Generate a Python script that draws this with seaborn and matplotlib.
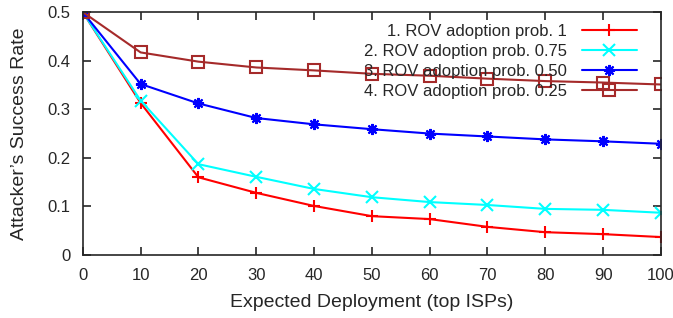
import seaborn as sns
import matplotlib.pyplot as plt

# data
deployment = [0, 10, 20, 30, 40, 50, 60, 70, 80, 90, 100]
prob_1 = [0.5, 0.313, 0.160, 0.128, 0.101, 0.080, 0.074, 0.058, 0.047, 0.043, 0.037]
prob_075 = [0.5, 0.318, 0.187, 0.161, 0.136, 0.119, 0.109, 0.103, 0.095, 0.093, 0.087]
prob_050 = [0.5, 0.352, 0.312, 0.282, 0.269, 0.259, 0.250, 0.244, 0.238, 0.234, 0.229]
prob_025 = [0.5, 0.417, 0.398, 0.386, 0.380, 0.373, 0.369, 0.363, 0.358, 0.355, 0.351]

labels = ["1. ROV adoption prob. 1", "2. ROV adoption prob. 0.75",
          "3. ROV adoption prob. 0.50", "4. ROV adoption prob. 0.25"]
series = [prob_1, prob_075, prob_050, prob_025]
colors = ["#ff0000", "#00ffff", "#0000ff", "#a52a2a"]
markers = ["+", "x", (8, 2, 0), "s"]

sns.set_style("ticks")
plt.rcParams['font.family'] = ['Liberation Sans', 'DejaVu Sans']

fig, ax = plt.subplots(figsize=(6.73, 3.18), dpi=100)
fig.subplots_adjust(left=0.123, right=0.982, top=0.962, bottom=0.198)

for vals, lab, col, mk in zip(series, labels, colors, markers):
    face = "none" if mk == "s" else col
    sns.lineplot(x=deployment, y=vals, ax=ax, label=lab, color=col,
                 marker=mk, markersize=8, markeredgecolor=col,
                 markerfacecolor=face, markeredgewidth=1.5, linewidth=1.5)

ax.set_xlim(0, 100)
ax.set_ylim(0, 0.5)
ax.set_xticks(deployment)
ax.set_yticks([0, 0.1, 0.2, 0.3, 0.4, 0.5])
ax.set_yticklabels(["0", "0.1", "0.2", "0.3", "0.4", "0.5"])
ax.tick_params(direction="in", top=True, right=True, length=6, width=1.2,
               labelsize=12, pad=9)
for sp in ax.spines.values():
    sp.set_linewidth(1.2)

ax.set_xlabel("Expected Deployment (top ISPs)", fontsize=14, labelpad=8)
ax.set_ylabel("Attacker’s Success Rate", fontsize=14, labelpad=14)

ax.legend(loc="upper right", bbox_to_anchor=(0.958, 0.95), frameon=False,
          markerfirst=False, fontsize=12, handlelength=3.3,
          labelspacing=0.3, borderaxespad=0, borderpad=0,
          handletextpad=0.9)

plt.savefig("out.png", dpi=100)
